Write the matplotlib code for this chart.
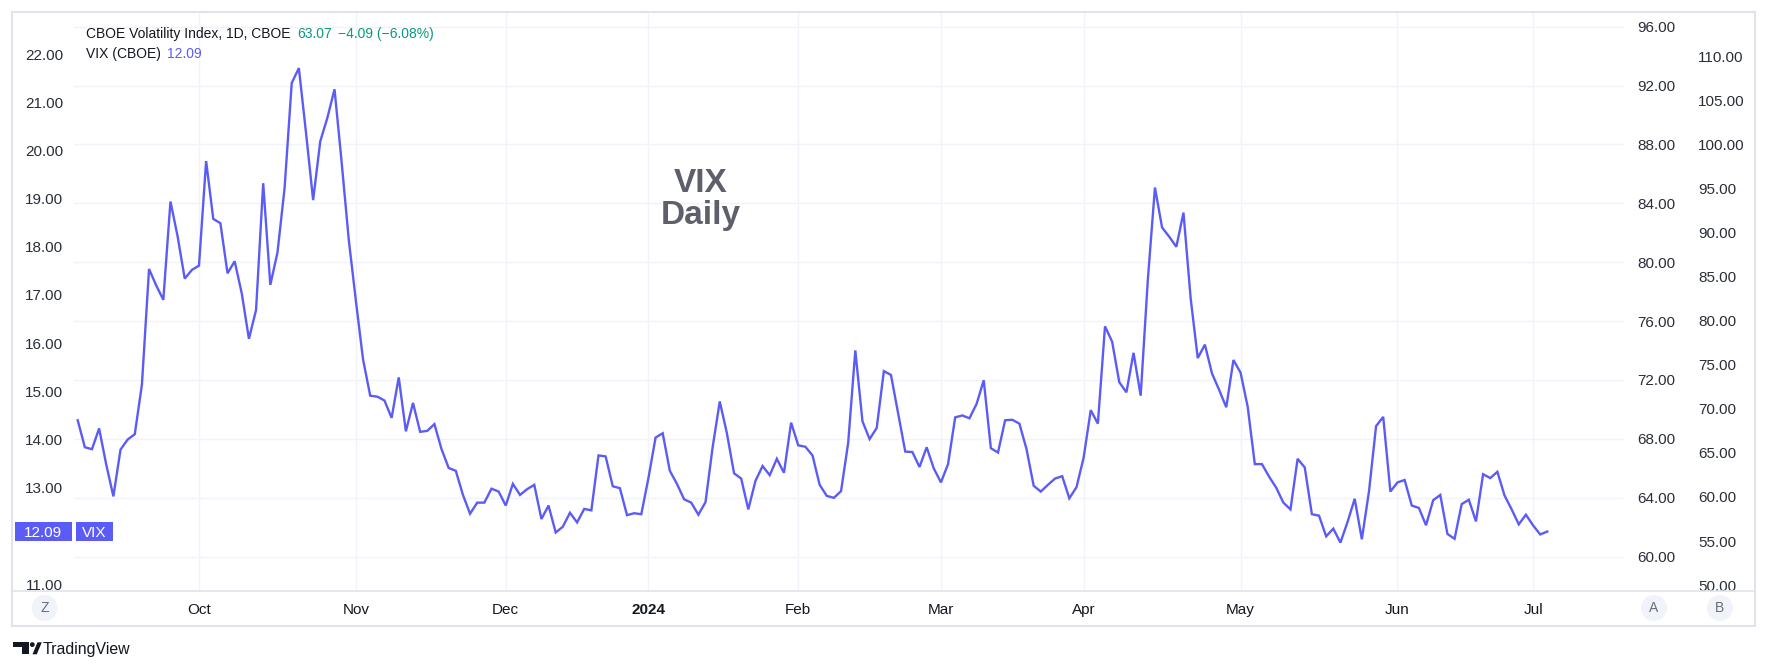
import numpy as np
import matplotlib
matplotlib.use("Agg")
import matplotlib.pyplot as plt
from matplotlib.patches import Rectangle, Ellipse, Polygon
from matplotlib.lines import Line2D

plt.rcParams['font.family'] = ['Liberation Sans', 'DejaVu Sans']

# VIX daily closes, one list per month (trading days only)
sep_2023 = [14.40, 13.84, 13.80, 14.23, 13.48, 12.82, 13.79, 14.00, 14.11, 15.14,
            17.54, 17.20, 16.90, 18.94, 18.22, 17.34, 17.52]
oct_2023 = [17.61, 19.78, 18.58, 18.49, 17.45, 17.70, 17.03, 16.09, 16.69, 19.32,
            17.21, 17.88, 19.22, 21.40, 21.71, 20.37, 18.97, 20.19, 20.68, 21.27,
            19.75, 18.14]
nov_2023 = [16.87, 15.66, 14.91, 14.89, 14.81, 14.45, 15.29, 14.17, 14.76, 14.16,
            14.18, 14.32, 13.80, 13.41, 13.35, 12.85, 12.46, 12.69, 12.69, 12.98,
            12.92]
dec_2023 = [12.63, 13.08, 12.85, 12.97, 13.06, 12.35, 12.63, 12.07, 12.19, 12.48,
            12.28, 12.56, 12.53, 13.67, 13.65, 13.03, 12.99, 12.43, 12.47, 12.45]
jan_2024 = [13.20, 14.04, 14.13, 13.35, 13.08, 12.76, 12.69, 12.44, 12.70, 13.84,
            14.79, 14.13, 13.30, 13.19, 12.55, 13.14, 13.45, 13.26, 13.60, 13.31,
            14.35]
feb_2024 = [13.88, 13.85, 13.67, 13.06, 12.83, 12.79, 12.93, 13.93, 15.85, 14.38,
            14.01, 14.24, 15.42, 15.34, 14.54, 13.75, 13.74, 13.43, 13.84, 13.40]
mar_2024 = [13.11, 13.49, 14.46, 14.50, 14.44, 14.74, 15.23, 13.82, 13.73, 14.40,
            14.41, 14.33, 13.80, 13.04, 12.92, 13.06, 13.19, 13.24, 12.78, 13.01]
apr_2024 = [13.62, 14.61, 14.33, 16.35, 16.03, 15.19, 14.98, 15.80, 14.91, 17.31,
            19.23, 18.40, 18.21, 18.00, 18.71, 16.94, 15.69, 15.97, 15.37, 15.03,
            14.67, 15.65]
may_2024 = [15.39, 14.68, 13.49, 13.49, 13.23, 13.00, 12.69, 12.55, 13.60, 13.42,
            12.45, 12.42, 11.99, 12.15, 11.86, 12.29, 12.77, 11.93, 12.92, 14.28,
            14.47, 12.92]
jun_2024 = [13.11, 13.16, 12.63, 12.58, 12.22, 12.74, 12.85, 12.04, 11.94, 12.66,
            12.75, 12.30, 13.28, 13.20, 13.33, 12.84, 12.55, 12.24, 12.44]
jul_2024 = [12.22, 12.03, 12.09]

month_data = [sep_2023, oct_2023, nov_2023, dec_2023, jan_2024, feb_2024,
              mar_2024, apr_2024, may_2024, jun_2024, jul_2024]
month_labels = ["Oct", "Nov", "Dec", "2024", "Feb", "Mar", "Apr", "May", "Jun", "Jul"]

left_ticks = list(range(11, 23))          # VIX scale
a_ticks = list(range(60, 97, 4))          # scale "A"
b_ticks = list(range(50, 111, 5))         # scale "B"

header_name = "CBOE Volatility Index, 1D, CBOE"
header_last = "63.07"
header_chg = "\u22124.09 (\u22126.08%)"

LINE = "#5b5cf6"
GRID = "#f0f3fa"
BORDER = "#e0e3eb"
TXT = "#131722"
GREEN = "#089981"

vix = np.concatenate(month_data)
x = np.arange(len(vix))
month_starts = np.cumsum([len(m) for m in month_data])[:-1]

W, H = 1768, 670
fig = plt.figure(figsize=(W / 100, H / 100), dpi=100)
fig.patch.set_facecolor("white")


def fx(px):
    return px / W


def fy(py):
    return 1 - py / H


# plot pane: x 74..1624, y 12..591 (pixels)
ax = fig.add_axes([fx(74), fy(591), (1624 - 74) / W, (591 - 12) / H])
axA = ax.twinx()
axB = ax.twinx()

ax.set_xlim(-0.52, 216.75)
ax.set_ylim(10.856, 22.874)
axA.set_ylim(57.66, 97.0)
axB.set_ylim(49.32, 115.1)

for a in (ax, axA, axB):
    for s in a.spines.values():
        s.set_visible(False)

ax.set_zorder(3)
ax.patch.set_visible(False)
axA.set_zorder(1)
axB.set_zorder(1)

ax.plot(x, vix, color=LINE, lw=1.7, solid_joinstyle="miter", zorder=3)

# vertical grid on month starts, horizontal grid follows scale A
ax.set_xticks(month_starts)
ax.set_xticklabels(month_labels)
ax.grid(axis="x", color=GRID, lw=1)
ax.get_xticklabels()[3].set_fontweight("bold")
ax.tick_params(axis="x", length=0, pad=8.3, labelsize=11, labelcolor=TXT)

# the 12.00 label sits under the last-value tag, so it is left blank
ax.set_yticks(left_ticks)
ax.set_yticklabels(["" if v == 12 else f"{v:.2f}" for v in left_ticks])
ax.tick_params(axis="y", length=0, pad=8, labelsize=11, labelcolor="#2a2e39")

axA.set_yticks(a_ticks)
axA.set_yticklabels([f"{v:.2f}" for v in a_ticks])
axA.grid(axis="y", color=GRID, lw=1)
axA.tick_params(axis="y", length=0, pad=9.5, labelsize=11, labelcolor="#2a2e39")

axB.set_yticks(b_ticks)
axB.set_yticklabels([f"{v:.2f}" for v in b_ticks])
axB.tick_params(axis="y", length=0, pad=53.3, labelsize=11, labelcolor="#2a2e39")

# watermark-like title
ax.text(0.4045, 0.689, "VIX", transform=ax.transAxes, ha="center", va="baseline",
        fontsize=24, fontweight="bold", color="#5d606b")
ax.text(0.4045, 0.634, "Daily", transform=ax.transAxes, ha="center", va="baseline",
        fontsize=24, fontweight="bold", color="#5d606b")

# legend header
fig.text(fx(85.7), fy(37.7), header_name, fontsize=10, color=TXT, va="baseline")
fig.text(fx(297.7), fy(37.7), header_last, fontsize=10, color=GREEN, va="baseline")
fig.text(fx(338), fy(37.7), header_chg, fontsize=10, color=GREEN, va="baseline")
fig.text(fx(85.7), fy(58), "VIX (CBOE)", fontsize=10, color=TXT, va="baseline")
fig.text(fx(167), fy(58), f"{vix[-1]:.2f}", fontsize=10, color=LINE, va="baseline")

# last value tag on the left scale
fig.canvas.draw()
y_last = H - ax.transData.transform((0, vix[-1]))[1]
for x0, x1, label in [(14.7, 72, f"{vix[-1]:.2f}"), (75.5, 112.8, "VIX")]:
    fig.add_artist(Rectangle((fx(x0), fy(y_last + 9.5)), (x1 - x0) / W, 19 / H,
                             transform=fig.transFigure, facecolor=LINE,
                             edgecolor="none", zorder=10))
    fig.text(fx((x0 + x1) / 2), fy(y_last), label, color="white", fontsize=11,
             ha="center", va="center_baseline", zorder=11)

# outer frame and time-axis separator
fig.add_artist(Rectangle((fx(12), fy(626)), (1755 - 12) / W, (626 - 12) / H,
                         transform=fig.transFigure, facecolor="none",
                         edgecolor=BORDER, lw=1.5, zorder=5))
fig.add_artist(Line2D([fx(12), fx(1755)], [fy(591), fy(591)],
                      transform=fig.transFigure, color=BORDER, lw=1.2, zorder=5))

# round buttons Z / A / B
for cx, letter in [(44.5, "Z"), (1654, "A"), (1720, "B")]:
    fig.add_artist(Ellipse((fx(cx), fy(608)), 26 / W, 26 / H,
                           transform=fig.transFigure, facecolor="#f0f3fa",
                           edgecolor="none", zorder=6))
    fig.text(fx(cx), fy(608), letter, fontsize=10, color="#6a6d78",
             ha="center", va="center", zorder=7)

# TradingView logo
logo = [
    [(12.7, 642.3), (29.3, 642.3), (29.3, 654.3), (21.7, 654.3), (21.7, 646.7), (12.7, 646.7)],
    [(32.5, 654.3), (36.8, 654.3), (41.8, 642.3), (37.5, 642.3)],
]
for pts in logo:
    fig.add_artist(Polygon([(fx(px), fy(py)) for px, py in pts], closed=True,
                           transform=fig.transFigure, facecolor=TXT,
                           edgecolor="none"))
fig.add_artist(Ellipse((fx(32.3), fy(644.6)), 4.8 / W, 4.8 / H,
                       transform=fig.transFigure, facecolor=TXT, edgecolor="none"))
fig.text(fx(42.7), fy(654), "TradingView", fontsize=11.4, color=TXT, va="baseline")

fig.savefig("out.png", dpi=100, facecolor="white")
